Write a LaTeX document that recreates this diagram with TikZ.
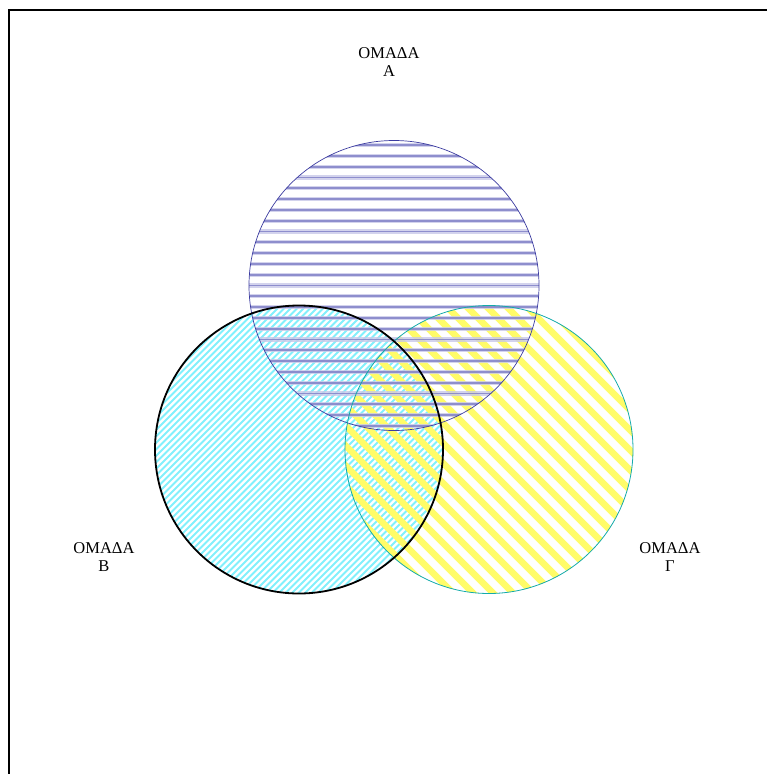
\documentclass[tikz,border=0pt]{standalone}
\usepackage{fontspec}
\setmainfont{Liberation Serif}
\definecolor{navyline}{RGB}{60,60,160}
\definecolor{tealline}{RGB}{20,170,170}
\definecolor{hatchA}{RGB}{125,125,198}
\definecolor{hatchAlight}{RGB}{200,200,232}
\definecolor{hatchB}{RGB}{130,240,252}
\definecolor{hatchC}{RGB}{255,252,105}

\begin{document}
\begin{tikzpicture}[x=1pt, y=-1pt,
  grouplabel/.style={align=center, inner sep=0pt, font=\fontsize{16.5}{18}\selectfont}]
  \clip (0,0) rectangle (767,774);
  % frame, runs off the right and bottom edge
  \draw[line width=1.6pt] (8.7,800) -- (8.7,10.2) -- (800,10.2);
  \coordinate (cA) at (394,285.5);
  \coordinate (cB) at (299,449.5);
  \coordinate (cC) at (489,449.5);
  % B: fine rising lines
  \begin{scope}
    \clip (cB) circle (144);
    \foreach \c in {456,462.5,...,1045}
      \draw[hatchB, line width=1.8pt] (\c-600,600) -- (\c-300,300);
  \end{scope}
  % C: wide falling stripes
  \begin{scope}
    \clip (cC) circle (144);
    \foreach \c in {-260,-240,...,340}
      \draw[hatchC, line width=6.5pt] (\c+300,300) -- (\c+600,600);
  \end{scope}
  % A: horizontal lines, laid over the others
  \begin{scope}[opacity=0.8]
    \clip (cA) circle (145);
    \foreach \y in {145,155.8,...,432} {
      \draw[hatchAlight, line width=4.2pt] (240,\y) -- (550,\y);
      \draw[hatchA, line width=1.8pt] (240,\y) -- (550,\y);
    }
  \end{scope}
  % outlines
  \draw[navyline, line width=0.7pt] (cA) circle (145);
  \draw[tealline, line width=0.8pt] (cC) circle (144);
  \draw[line width=1.8pt] (cB) circle (144);
  % labels
  \node[grouplabel] (labA) at (389,62.5) {ΟΜΑΔΑ\\Α};
  \node[grouplabel] (labB) at (104,557.5) {ΟΜΑΔΑ\\Β};
  \node[grouplabel] (labC) at (670,557.5) {ΟΜΑΔΑ\\Γ};
\end{tikzpicture}
\end{document}
